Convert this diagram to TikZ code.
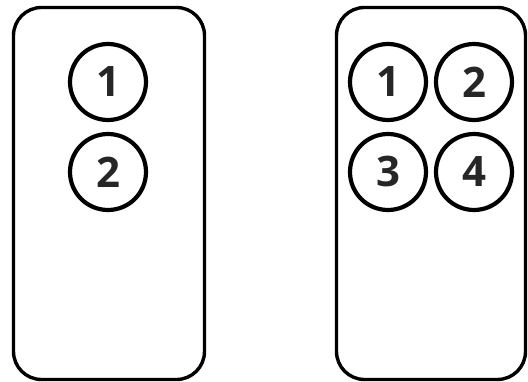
\documentclass[tikz,border=0pt]{standalone}
\usepackage{fontspec}
\setmainfont{Open Sans}
\begin{document}
\begin{tikzpicture}[x=1pt,y=-1pt,
  remote/.style={draw=black,line width=3.4pt,rounded corners=28pt},
  btn/.style={circle,draw=black,line width=4.2pt,minimum size=76pt,inner sep=0pt,
    font=\fontsize{42}{46}\selectfont\bfseries,text=black!85}]
\useasboundingbox (0,0) rectangle (528,382);
\draw[remote] (13.5,7.5) rectangle (204.5,379.5);
\draw[remote] (336.5,7.5) rectangle (525.5,379.5);
\node[btn] (l1) at (108,82) {1};
\node[btn] (l2) at (108,172) {2};
\node[btn] (r1) at (388,82) {1};
\node[btn] (r2) at (474,82) {2};
\node[btn] (r3) at (388,172) {3};
\node[btn] (r4) at (474,172) {4};
\end{tikzpicture}
\end{document}
